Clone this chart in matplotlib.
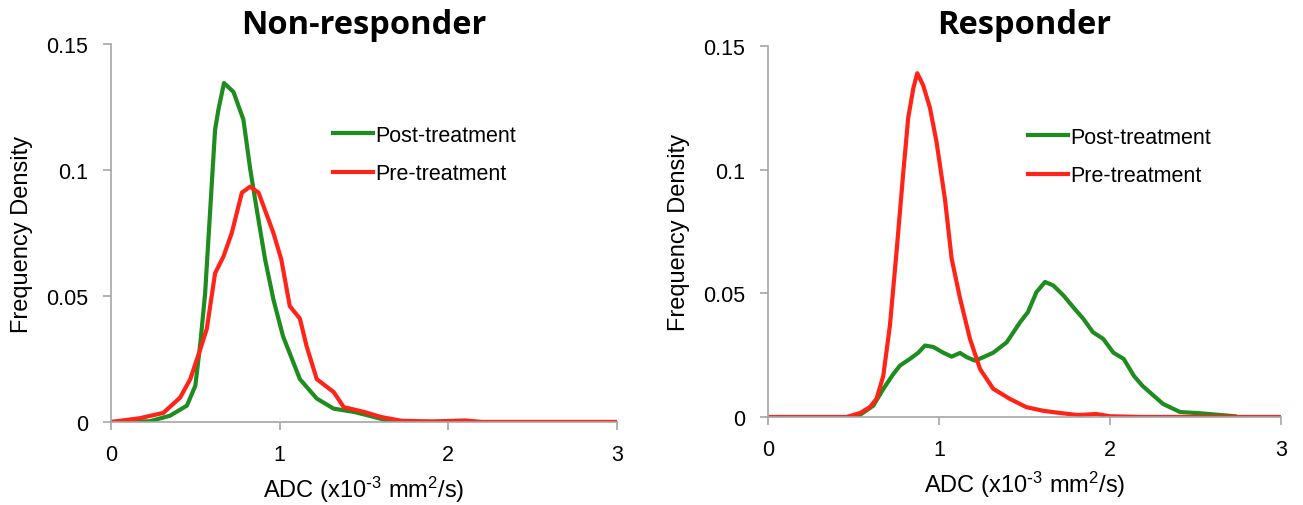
import matplotlib
matplotlib.use("Agg")
import matplotlib.pyplot as plt

# ADC values (x10^-3 mm2/s) and frequency density
nr_post_x = [0.0, 0.23, 0.35, 0.45, 0.50, 0.53, 0.558, 0.588, 0.617, 0.637, 0.67, 0.726, 0.785,
             0.825, 0.865, 0.914, 0.963, 1.02, 1.12, 1.22, 1.32, 1.44, 1.56, 1.66, 2.0, 3.0]
nr_post_y = [0.0, 0.0003, 0.0025, 0.0065, 0.0144, 0.0315, 0.051, 0.084, 0.116, 0.124, 0.1345, 0.131, 0.12,
             0.1005, 0.084, 0.0644, 0.0486, 0.034, 0.017, 0.0093, 0.0053, 0.004, 0.002, 0.0002, 0.0, 0.0]

nr_pre_x = [0.0, 0.17, 0.31, 0.41, 0.47, 0.53, 0.568, 0.617, 0.667, 0.716, 0.776, 0.825, 0.875,
            0.963, 1.01, 1.06, 1.12, 1.16, 1.22, 1.32, 1.38, 1.50, 1.60, 1.72, 1.9, 2.1, 2.2, 3.0]
nr_pre_y = [0.0, 0.0015, 0.0036, 0.0097, 0.017, 0.029, 0.037, 0.059, 0.0657, 0.075, 0.091, 0.0934, 0.091,
            0.075, 0.0644, 0.046, 0.041, 0.030, 0.017, 0.0119, 0.0059, 0.004, 0.002, 0.0005, 0.0002, 0.0006, 0.0, 0.0]

r_post_x = [0.52, 0.616, 0.674, 0.733, 0.772, 0.83, 0.879, 0.918, 0.967, 1.025, 1.074, 1.123, 1.162,
            1.21, 1.26, 1.317, 1.396, 1.474, 1.52, 1.57, 1.62, 1.668, 1.727, 1.785, 1.844, 1.90,
            1.96, 2.02, 2.08, 2.14, 2.19, 2.31, 2.41, 2.53, 2.73]
r_post_y = [0.0, 0.0046, 0.0113, 0.0174, 0.0208, 0.0235, 0.026, 0.0289, 0.0283, 0.026, 0.0244, 0.0259, 0.0242,
            0.0228, 0.0242, 0.026, 0.0302, 0.0383, 0.0424, 0.0505, 0.0546, 0.0532, 0.0492, 0.0444, 0.0397, 0.0343,
            0.0316, 0.026, 0.0235, 0.0166, 0.0126, 0.0053, 0.002, 0.0015, 0.0003]

r_pre_x = [0.0, 0.46, 0.538, 0.596, 0.635, 0.674, 0.713, 0.752, 0.79, 0.82, 0.85, 0.873, 0.908, 0.947,
           0.986, 1.035, 1.074, 1.123, 1.181, 1.24, 1.317, 1.415, 1.51, 1.61, 1.71, 1.81, 1.92, 2.0, 2.2, 3.0]
r_pre_y = [0.0, 0.0, 0.0016, 0.004, 0.0074, 0.0166, 0.037, 0.067, 0.098, 0.121, 0.133, 0.139, 0.134, 0.125,
           0.111, 0.088, 0.064, 0.048, 0.0316, 0.0194, 0.0114, 0.0073, 0.004, 0.0025, 0.0016, 0.0008, 0.0012, 0.0003, 0.0, 0.0]

titles = ["Non-responder", "Responder"]
x_ticks = [0, 1, 2, 3]
y_ticks = [0, 0.05, 0.1, 0.15]
y_tick_labels = ["0", "0.05", "0.1", "0.15"]

GREEN = "#1e8c1e"
RED = "#ff2318"
GRAY = "#a6a6a6"

plt.rcParams["font.family"] = ["Liberation Sans", "DejaVu Sans"]
plt.rcParams["mathtext.default"] = "regular"

W, H = 1303, 506
fig = plt.figure(figsize=(W / 100, H / 100), dpi=100)

def px_axes(l, r, t, b):
    return fig.add_axes([l / W, 1 - b / H, (r - l) / W, (b - t) / H])

ax1 = px_axes(111, 617, 45, 423)
ax2 = px_axes(768, 1281, 47, 418)

# (axes, post x, post y, pre x, pre y, legend top-left px, title pad pt)
panels = [
    (ax1, nr_post_x, nr_post_y, nr_pre_x, nr_pre_y, (333, 126), 8),
    (ax2, r_post_x, r_post_y, r_pre_x, r_pre_y, (1028, 128), 9.4),
]

for i, (ax, px, py, qx, qy, leg, tpad) in enumerate(panels):
    ax.plot(px, py, color=GREEN, lw=3.0, label="Post-treatment", solid_joinstyle="round")
    ax.plot(qx, qy, color=RED, lw=3.0, label="Pre-treatment", solid_joinstyle="round")
    ax.set_xlim(0, 3)
    ax.set_ylim(0, 0.15)
    ax.set_xticks(x_ticks)
    ax.set_xticklabels([str(t) for t in x_ticks])
    ax.set_yticks(y_ticks)
    ax.set_yticklabels(y_tick_labels)
    for s in ["top", "right"]:
        ax.spines[s].set_visible(False)
    for s in ["left", "bottom"]:
        ax.spines[s].set_color(GRAY)
        ax.spines[s].set_linewidth(1.2)
    ax.tick_params(colors=GRAY, labelcolor="black", labelsize=15.5, length=6, width=1.2, direction="out")
    ax.tick_params(axis="x", pad=10)
    ax.tick_params(axis="y", pad=10.5)

    bbox = ax.get_position()
    ax_h = bbox.height * H
    ax_w = bbox.width * W
    ax.set_ylabel("Frequency Density", fontsize=17, va="center")
    ax.yaxis.set_label_coords(-89 / ax_w, 0.5)
    ax.set_xlabel(r"ADC (x10$^{\text{-}3}$ mm$^{2}$/s)", fontsize=17, va="center")
    ax.xaxis.set_label_coords(0.5, -67 / ax_h)

    ax.set_title(titles[i], fontsize=23.5, fontweight="bold", family="Open Sans", pad=tpad)
    ax.legend(loc="upper left", bbox_to_anchor=(leg[0] / W, 1 - leg[1] / H),
              bbox_transform=fig.transFigure, frameon=False, fontsize=15.5,
              handlelength=1.86, handletextpad=0.1, labelspacing=0.8,
              borderpad=0, borderaxespad=0)

fig.savefig("out.png", dpi=100)
